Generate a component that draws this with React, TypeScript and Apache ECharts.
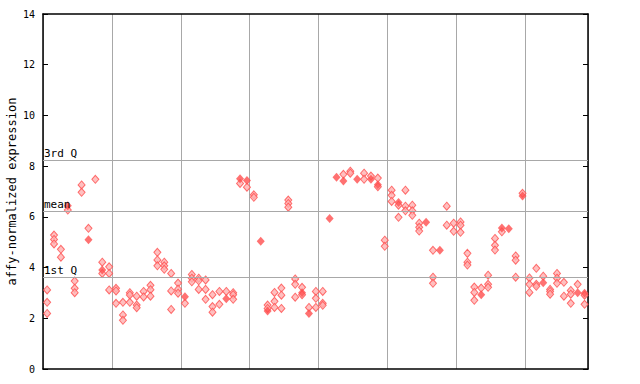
import React, { useEffect, useRef } from "react";
import * as echarts from "echarts";

// column index (sample position) and expression value
const hollowPoints: [number, number][] = [
  [0, 3.12], [0, 2.63], [0, 2.19], [1, 5.28], [1, 5.11], [1, 4.93], [2, 4.72], [2, 4.41], [3, 6.27],
  [4, 3.47], [4, 3.18], [4, 3.01], [5, 7.26], [5, 6.97], [6, 5.55], [7, 7.48], [8, 4.21], [8, 3.77],
  [9, 4.03], [9, 3.77], [9, 3.12],
  [10, 3.18], [10, 3.08], [10, 2.59], [11, 2.63], [11, 2.13], [11, 1.92], [12, 3.01], [12, 2.92], [12, 2.63],
  [13, 2.87], [13, 2.52], [13, 2.42], [14, 3.06], [14, 2.84], [15, 3.3], [15, 3.13], [15, 2.87],
  [16, 4.6], [16, 4.3], [16, 4.07], [17, 4.21], [17, 4.07], [17, 3.93], [18, 3.77], [18, 3.08], [18, 2.35],
  [19, 3.39], [19, 3.15], [19, 2.99],
  [20, 2.59], [21, 3.73], [21, 3.58], [21, 3.44], [22, 3.58], [22, 3.48], [22, 3.14], [23, 3.51], [23, 3.14],
  [23, 2.75], [24, 2.93], [24, 2.46], [24, 2.24], [25, 3.06], [25, 2.55], [26, 3.06], [27, 3.01], [27, 2.93],
  [27, 2.75], [28, 7.32], [29, 7.17],
  [30, 6.87], [30, 6.77], [32, 2.52], [32, 2.39], [33, 3.02], [33, 2.67], [33, 2.43], [34, 3.19], [34, 2.91],
  [34, 2.39], [35, 6.66], [35, 6.53], [35, 6.38], [36, 3.55], [36, 3.34], [36, 2.83], [37, 3.22], [37, 2.93],
  [38, 2.43], [39, 3.06], [39, 2.79], [39, 2.43],
  [40, 3.06], [40, 2.59], [40, 2.51], [43, 7.68], [44, 7.8], [44, 7.72], [46, 7.72], [46, 7.48], [47, 7.61],
  [48, 7.53], [48, 7.19], [49, 5.08], [49, 4.84],
  [50, 7.05], [50, 6.85], [50, 6.61], [51, 6.46], [51, 5.98], [52, 7.05], [52, 6.42], [52, 6.24], [53, 6.46],
  [53, 6.24], [53, 6.06], [54, 5.75], [54, 5.59], [54, 5.44], [56, 4.68], [56, 3.62], [56, 3.38], [58, 6.42],
  [58, 5.67], [59, 5.75], [59, 5.43],
  [60, 5.8], [60, 5.67], [60, 5.39], [61, 4.56], [61, 4.21], [61, 4.1], [62, 3.23], [62, 3.02], [62, 2.71],
  [63, 3.19], [64, 3.7], [64, 3.34], [64, 3.22], [65, 5.15], [65, 4.88], [65, 4.69], [66, 5.41], [68, 4.46],
  [68, 4.29], [68, 3.62], [69, 6.93],
  [70, 3.59], [70, 3.34], [70, 3.02], [71, 3.97], [71, 3.34], [71, 3.26], [72, 3.66], [73, 3.14], [73, 3.06],
  [73, 2.95], [74, 3.77], [74, 3.58], [74, 3.38], [75, 3.42], [75, 2.87], [76, 3.1], [76, 2.95], [76, 2.59],
  [77, 3.34], [78, 2.91], [78, 2.55],
];

const filledPoints: [number, number][] = [
  [3, 6.44], [6, 5.1], [8, 3.9],
  [20, 2.85], [26, 2.77], [28, 7.5], [29, 7.43],
  [31, 5.04], [32, 2.29], [37, 3.01], [38, 2.19],
  [41, 5.94], [42, 7.56], [43, 7.41], [45, 7.48], [47, 7.48], [48, 7.27],
  [51, 6.57], [55, 5.79], [57, 4.68],
  [63, 2.93], [66, 5.56], [67, 5.53], [69, 6.82],
  [72, 3.4], [77, 3.01], [78, 2.99],
];

const refLines: { name: string; value: number }[] = [
  { name: "3rd Q", value: 8.24 },
  { name: "mean", value: 6.22 },
  { name: "1st Q", value: 3.62 },
];

const yTicks = { min: 0, max: 14, interval: 2 };
// x axis: sample columns, grouped in blocks of 10
const xRange = { min: -0.6, max: 78.5, interval: 10 };

const MONO = "'DejaVu Sans Mono', 'Liberation Mono', monospace";
const RED = "#ff4d4d";

export default function App() {
  const ref = useRef<HTMLDivElement>(null);
  useEffect(() => {
    document.body.style.margin = "0";
    if (!ref.current) return;
    const chart = echarts.init(ref.current, null, { renderer: "svg" });
    chart.setOption({
      animation: false,
      backgroundColor: "#ffffff",
      grid: { left: 43, right: 52, top: 14, bottom: 15, containLabel: false, outerBoundsMode: "none" },
      xAxis: [
        {
          type: "value",
          min: xRange.min,
          max: xRange.max,
          interval: xRange.interval,
          axisLine: { show: true, onZero: false, lineStyle: { color: "#000", width: 1.5 } },
          axisTick: { show: false },
          axisLabel: { show: false },
          splitLine: { show: true, lineStyle: { color: "#a8a8a8", width: 1 } },
        },
        {
          type: "value",
          min: xRange.min,
          max: xRange.max,
          interval: xRange.interval,
          position: "top",
          axisLine: { show: true, onZero: false, lineStyle: { color: "#000", width: 1.5 } },
          axisTick: { show: false },
          axisLabel: { show: false },
          splitLine: { show: false },
        },
      ],
      yAxis: [
        {
          type: "value",
          min: yTicks.min,
          max: yTicks.max,
          interval: yTicks.interval,
          name: "affy-normalized expression",
          nameLocation: "middle",
          nameGap: 25,
          nameMoveOverlap: false,
          nameTextStyle: { fontFamily: MONO, fontSize: 12, color: "#000" },
          axisLine: { show: true, onZero: false, lineStyle: { color: "#000", width: 1.5 } },
          axisTick: { show: true, inside: true, length: 5, lineStyle: { color: "#000" } },
          axisLabel: { fontFamily: MONO, fontSize: 10, color: "#000", margin: 8 },
          splitLine: { show: false },
        },
        {
          type: "value",
          min: yTicks.min,
          max: yTicks.max,
          interval: yTicks.interval,
          position: "right",
          axisLine: { show: true, onZero: false, lineStyle: { color: "#000", width: 1.5 } },
          axisTick: { show: true, inside: true, length: 5, lineStyle: { color: "#000" } },
          axisLabel: { show: false },
          splitLine: { show: false },
        },
      ],
      series: [
        {
          type: "scatter",
          name: "ref",
          data: [],
          markLine: {
            silent: true,
            symbol: ["none", "none"],
            lineStyle: { color: "#a8a8a8", width: 1, type: "solid" },
            label: {
              show: true,
              position: "insideStartTop",
              distance: [1, 1],
              formatter: (p: any) => p.name,
              fontFamily: MONO,
              fontSize: 11,
              color: "#000",
            },
            data: refLines.map((r) => ({ name: r.name, yAxis: r.value })),
          },
        },
        {
          type: "scatter",
          name: "samples",
          symbol: "diamond",
          symbolSize: [7, 8],
          itemStyle: { color: "#ffb0b0", borderColor: RED, borderWidth: 1 },
          data: hollowPoints,
        },
        {
          type: "scatter",
          name: "highlight",
          symbol: "diamond",
          symbolSize: [8, 9],
          itemStyle: { color: RED },
          data: filledPoints,
        },
      ],
    });
    return () => chart.dispose();
  }, []);
  return <div ref={ref} style={{ width: 640, height: 384 }} />;
}
